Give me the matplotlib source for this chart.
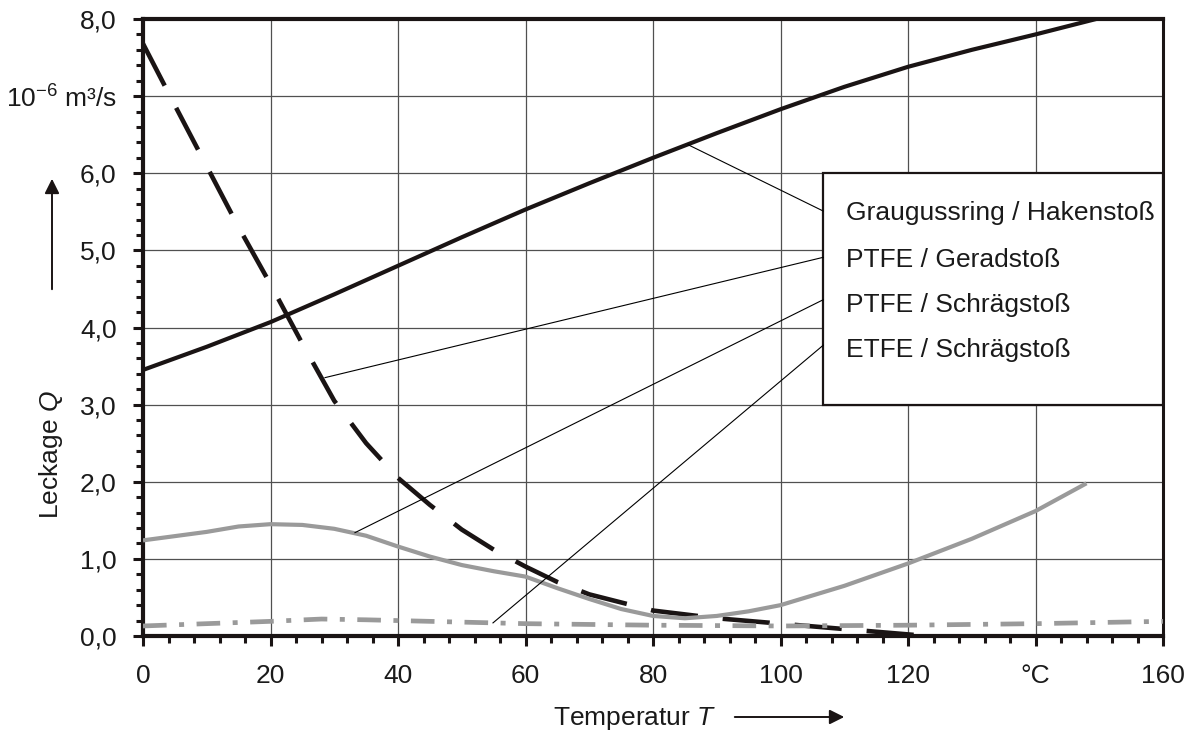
import matplotlib
matplotlib.use("Agg")
import matplotlib.pyplot as plt
from matplotlib.patches import Rectangle
from matplotlib.ticker import MultipleLocator

plt.rcParams['font.family'] = ['Liberation Sans', 'DejaVu Sans']
plt.rcParams['mathtext.fontset'] = 'custom'
plt.rcParams['mathtext.rm'] = 'Liberation Sans'
plt.rcParams['mathtext.it'] = 'Liberation Sans:italic'
plt.rcParams['lines.scale_dashes'] = False

# Graugussring / Hakenstoss (solid black)
gg_T = [0, 10, 20, 30, 40, 50, 60, 70, 80, 90, 100, 110, 120, 130, 140, 149.5]
gg_Q = [3.45, 3.75, 4.07, 4.43, 4.80, 5.17, 5.53, 5.87, 6.20, 6.52, 6.83, 7.12, 7.38, 7.60, 7.80, 8.00]

# PTFE / Geradstoss (dashed black)
pg_T = [0, 5, 10, 15, 20, 25, 30, 35, 40, 45, 50, 55, 60, 65, 70, 80, 90, 100, 110, 123]
pg_Q = [7.68, 6.88, 6.09, 5.30, 4.56, 3.79, 3.05, 2.50, 2.05, 1.70, 1.38, 1.12, 0.90, 0.70, 0.54, 0.33, 0.23, 0.16, 0.09, 0.0]

# PTFE / Schraegstoss (solid grey)
ps_T = [0, 10, 15, 20, 25, 30, 35, 40, 45, 50, 55, 60, 65, 70, 75, 80, 85, 90, 95, 100, 110, 120, 130, 140, 148]
ps_Q = [1.24, 1.35, 1.42, 1.45, 1.44, 1.39, 1.30, 1.16, 1.03, 0.92, 0.84, 0.77, 0.62, 0.48, 0.35, 0.26, 0.23, 0.26, 0.32, 0.40, 0.65, 0.94, 1.26, 1.62, 1.98]

# ETFE / Schraegstoss (dash-dot grey)
es_T = [0, 10, 20, 28, 35, 40, 50, 60, 80, 100, 120, 140, 160]
es_Q = [0.13, 0.16, 0.19, 0.22, 0.21, 0.20, 0.18, 0.16, 0.14, 0.13, 0.14, 0.16, 0.19]

labels = ["Graugussring / Hakenstoß", "PTFE / Geradstoß", "PTFE / Schrägstoß", "ETFE / Schrägstoß"]
# leader lines: point on curve -> edge of label box
lead_from = [(85.5, 6.37), (28.55, 3.35), (33.25, 1.34), (54.9, 0.17)]
lead_to = [(106.7, 5.51), (106.7, 4.91), (106.7, 4.36), (106.7, 3.77)]
label_y = [5.48, 4.88, 4.29, 3.71]

x_ticks = [0, 20, 40, 60, 80, 100, 120, 140, 160]
x_ticklabels = ["0", "20", "40", "60", "80", "100", "120", "°C", "160"]
y_ticks = [0, 1, 2, 3, 4, 5, 6, 7, 8]
y_ticklabels = ["0,0", "1,0", "2,0", "3,0", "4,0", "5,0", "6,0", "10$^{-6}$ m³/s", "8,0"]

FS = 19
W, H = 1187, 735
fig = plt.figure(figsize=(W / 100, H / 100), dpi=100)
ax = fig.add_axes([143 / W, 1 - 636 / H, (1163 - 143) / W, (636 - 19) / H])

black = '#1a1414'
grey = '#9a9a9a'
ax.plot(gg_T, gg_Q, color=black, lw=3.0, solid_capstyle='butt', zorder=4)
ax.plot(pg_T, pg_Q, color=black, lw=3.3, linestyle=(0, (34, 18)), dash_capstyle='butt', zorder=4)
ax.plot(ps_T, ps_Q, color=grey, lw=3.0, solid_capstyle='butt', zorder=4)
ax.plot(es_T, es_Q, color=grey, lw=3.4, linestyle=(0, (17, 9, 3.6, 9)), dash_capstyle='butt', zorder=4)

for (x0, y0), (x1, y1) in zip(lead_from, lead_to):
    ax.plot([x0, x1], [y0, y1], color='black', lw=0.8, zorder=5)

ax.add_patch(Rectangle((106.7, 3.0), 160 - 106.7, 3.0, facecolor='white',
                       edgecolor=black, lw=1.6, zorder=3, clip_on=False))
for lab, ly in zip(labels, label_y):
    ax.text(110.3, ly, lab, fontsize=FS, va='center', ha='left', color='#1a1a1a', zorder=6)

ax.set_xlim(0, 160)
ax.set_ylim(0, 8)
ax.set_xticks(x_ticks)
ax.set_xticklabels(x_ticklabels)
ax.set_yticks(y_ticks)
ax.set_yticklabels(y_ticklabels)
ax.xaxis.set_minor_locator(MultipleLocator(4))
ax.yaxis.set_minor_locator(MultipleLocator(0.2))
ax.tick_params(which='major', direction='out', length=7, width=2.2, colors=black,
               labelsize=FS, labelcolor='#1a1a1a')
ax.tick_params(axis='y', which='major', pad=12)
ax.tick_params(axis='x', which='major', pad=13)
ax.tick_params(which='minor', direction='out', length=5, width=2.2, colors=black)
ax.grid(True, which='major', color='#505050', lw=0.9)
ax.set_axisbelow(True)
for side in ['left', 'bottom', 'top']:
    ax.spines[side].set_linewidth(3.0)
    ax.spines[side].set_color(black)
ax.spines['right'].set_linewidth(2.2)
ax.spines['right'].set_color(black)

# axis titles with arrows
fig.text(553 / W, 1 - 718 / H, "Temperatur $\\mathit{T}$", fontsize=FS, va='center',
         ha='left', color='#1a1a1a')
ax.annotate("", xy=(847, H - 717), xytext=(732, H - 717), xycoords='figure pixels',
            textcoords='figure pixels',
            arrowprops=dict(arrowstyle='-|>', color=black, lw=1.4, mutation_scale=22))
fig.text(51 / W, 1 - 455 / H, "Leckage $\\mathit{Q}$", fontsize=FS, va='center',
         ha='center', rotation=90, color='#1a1a1a')
ax.annotate("", xy=(52, H - 176), xytext=(52, H - 292), xycoords='figure pixels',
            textcoords='figure pixels',
            arrowprops=dict(arrowstyle='-|>', color=black, lw=1.4, mutation_scale=22))

fig.savefig("out.png", dpi=100)
plt.close(fig)
